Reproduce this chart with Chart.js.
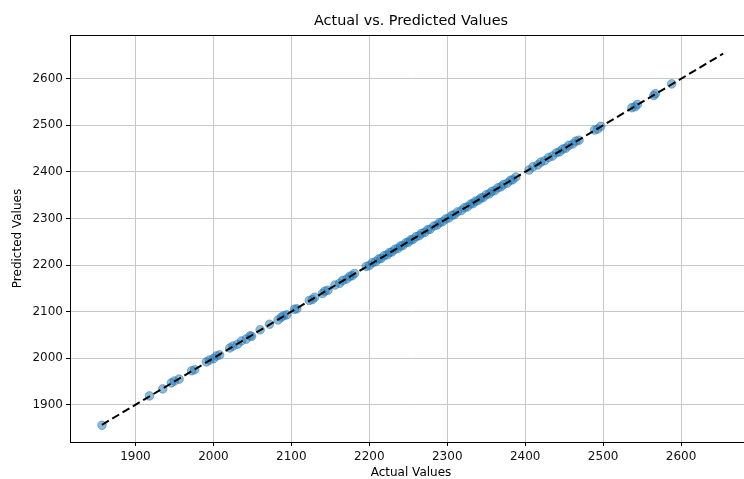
<!DOCTYPE html>
<html>
<head>
<meta charset="utf-8">
<script src="https://cdn.jsdelivr.net/npm/chart.js@4/dist/chart.umd.min.js"></script>
<style>
  html, body { margin: 0; padding: 0; background: #fff; overflow: hidden; width: 744px; height: 479px; }
  #wrap { width: 760px; height: 480px; }
</style>
</head>
<body>
<div id="wrap"><canvas id="c" width="760" height="480"></canvas></div>
<script>
const actualValues = [1857, 1918, 1935, 1946, 1950, 1956, 1972, 1976, 1991, 1995, 2000, 2004, 2008, 2021, 2025, 2031, 2036, 2042, 2047, 2049, 2060, 2072, 2083, 2087, 2090, 2094, 2104, 2107, 2123, 2127, 2130, 2140, 2143, 2147, 2156, 2162, 2166, 2171, 2175, 2178, 2181, 2196, 2200, 2204, 2208, 2212, 2215, 2219, 2223, 2226, 2229, 2233, 2237, 2240, 2243, 2247, 2250, 2253, 2256, 2260, 2264, 2267, 2271, 2275, 2278, 2283, 2287, 2290, 2294, 2298, 2302, 2306, 2309, 2313, 2318, 2322, 2326, 2330, 2333, 2336, 2340, 2343, 2346, 2350, 2354, 2357, 2361, 2365, 2369, 2372, 2377, 2381, 2384, 2388, 2405, 2410, 2416, 2420, 2425, 2430, 2435, 2440, 2444, 2448, 2452, 2456, 2461, 2465, 2469, 2489, 2493, 2497, 2537, 2541, 2544, 2565, 2567, 2588];
const predictedValues = [1856, 1919, 1934, 1947, 1951, 1955, 1973, 1975, 1992, 1996, 1999, 2005, 2007, 2022, 2026, 2030, 2037, 2041, 2048, 2047, 2061, 2073, 2082, 2088, 2091, 2093, 2105, 2106, 2124, 2126, 2131, 2139, 2144, 2146, 2157, 2161, 2167, 2170, 2176, 2177, 2182, 2197, 2199, 2205, 2207, 2213, 2214, 2220, 2222, 2227, 2228, 2234, 2236, 2241, 2242, 2248, 2249, 2254, 2255, 2261, 2263, 2268, 2270, 2276, 2277, 2284, 2286, 2291, 2293, 2299, 2301, 2307, 2308, 2314, 2317, 2323, 2325, 2331, 2332, 2337, 2339, 2344, 2345, 2351, 2353, 2358, 2360, 2366, 2368, 2373, 2376, 2382, 2383, 2389, 2404, 2411, 2415, 2421, 2424, 2431, 2434, 2441, 2443, 2449, 2451, 2457, 2460, 2466, 2468, 2490, 2492, 2498, 2538, 2540, 2545, 2564, 2568, 2589];
const lineX = [1857, 2654];
const lineY = [1857, 2654];
const xTicks = [1900, 2000, 2100, 2200, 2300, 2400, 2500, 2600];
const yTicks = [1900, 2000, 2100, 2200, 2300, 2400, 2500, 2600];
const chartTitle = 'Actual vs. Predicted Values';

const scatterData = actualValues.map((v, i) => ({ x: v, y: predictedValues[i] }));
const lineData = lineX.map((v, i) => ({ x: v, y: lineY[i] }));

const FONT = "'DejaVu Sans', sans-serif";

const frame = {
  id: 'frame',
  afterDatasetsDraw(chart) {
    const a = chart.chartArea, ctx = chart.ctx;
    ctx.save();
    ctx.strokeStyle = '#000';
    ctx.lineWidth = 1;
    ctx.strokeRect(Math.round(a.left) + 0.5, Math.round(a.top) + 0.5, Math.round(a.right - a.left), Math.round(a.bottom - a.top));
    ctx.restore();
  },
  afterDraw(chart) {
    const a = chart.chartArea, ctx = chart.ctx;
    ctx.save();
    ctx.fillStyle = '#000';
    ctx.font = "14.4px 'DejaVu Sans', sans-serif";
    ctx.textAlign = 'center';
    ctx.textBaseline = 'middle';
    ctx.fillText(chartTitle, (a.left + a.right) / 2, 21);
    ctx.restore();
  }
};

new Chart(document.getElementById('c'), {
  type: 'scatter',
  data: {
    datasets: [
      {
        type: 'line',
        data: lineData,
        borderColor: '#000',
        borderWidth: 2,
        borderDash: [8, 4],
        pointRadius: 0,
        fill: false,
        order: 0
      },
      {
        data: scatterData,
        backgroundColor: 'rgba(31,119,180,0.5)',
        borderColor: 'rgba(31,119,180,0.5)',
        borderWidth: 1,
        pointRadius: 4.3,
        order: 1
      }
    ]
  },
  options: {
    responsive: false,
    animation: false,
    events: [],
    layout: { padding: { left: 0, right: 8, top: 35, bottom: 0 } },
    plugins: {
      legend: { display: false },
      tooltip: { enabled: false },
      title: { display: false }
    },
    scales: {
      x: {
        type: 'linear',
        min: 1816,
        max: 2691,
        afterBuildTicks(s) { s.ticks = xTicks.map(v => ({ value: v })); },
        afterFit(s) { s.height = 38; },
        grid: { color: '#c8c8c8', lineWidth: 1, tickColor: '#000', tickLength: 4, drawOnChartArea: true },
        border: { display: true, color: '#000', width: 1 },
        ticks: { color: '#111', font: { family: FONT, size: 12 }, padding: 4, maxRotation: 0, callback: v => String(v) },
        title: { display: true, text: 'Actual Values', color: '#000', font: { family: FONT, size: 12 }, padding: { top: 0, bottom: 0 } }
      },
      y: {
        type: 'linear',
        min: 1820,
        max: 2694,
        afterBuildTicks(s) { s.ticks = yTicks.map(v => ({ value: v })); },
        afterFit(s) { s.width = 70; },
        grid: { color: '#c8c8c8', lineWidth: 1, tickColor: '#000', tickLength: 4 },
        border: { display: true, color: '#000', width: 1 },
        ticks: { color: '#111', font: { family: FONT, size: 12 }, padding: 3, callback: v => String(v) },
        title: { display: true, text: 'Predicted Values', color: '#000', font: { family: FONT, size: 12 }, padding: { top: 10.8, bottom: 0 } }
      }
    }
  },
  plugins: [frame]
});
</script>
</body>
</html>
